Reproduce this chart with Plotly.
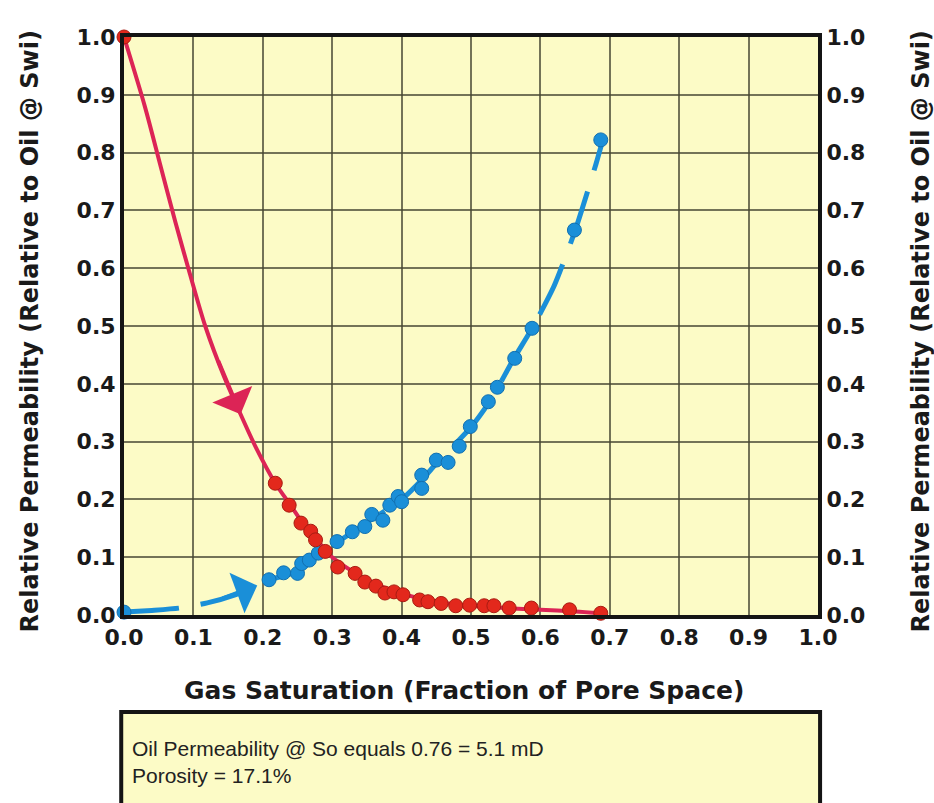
import numpy as np
import plotly.graph_objects as go

# Measured oil (red) relative permeability points vs gas saturation
oil_sg = [0.0, 0.218, 0.238, 0.255, 0.269, 0.276, 0.290, 0.308, 0.333, 0.347,
          0.363, 0.376, 0.389, 0.402, 0.426, 0.438, 0.457, 0.478, 0.498,
          0.519, 0.533, 0.555, 0.587, 0.642, 0.687]
oil_kr = [1.0, 0.228, 0.190, 0.159, 0.145, 0.130, 0.110, 0.083, 0.072, 0.057,
          0.050, 0.038, 0.040, 0.035, 0.026, 0.023, 0.020, 0.016, 0.017,
          0.016, 0.016, 0.012, 0.012, 0.009, 0.003]

# Measured gas (blue) relative permeability points vs gas saturation
gas_sg = [0.0, 0.209, 0.230, 0.250, 0.256, 0.267, 0.280, 0.307, 0.329, 0.347,
          0.357, 0.373, 0.383, 0.395, 0.400, 0.429, 0.429, 0.450, 0.467,
          0.483, 0.499, 0.525, 0.538, 0.563, 0.588, 0.649, 0.687]
gas_kr = [0.005, 0.061, 0.073, 0.072, 0.089, 0.095, 0.107, 0.127, 0.144, 0.153,
          0.174, 0.164, 0.190, 0.205, 0.196, 0.242, 0.219, 0.268, 0.264,
          0.292, 0.326, 0.369, 0.394, 0.444, 0.496, 0.666, 0.822]

# Smoothed curves through each set of measurements
oil_curve_sg = [0.0, 0.03, 0.052, 0.074, 0.095, 0.117, 0.145, 0.167, 0.19, 0.218,
                0.24, 0.26, 0.28, 0.30, 0.33, 0.36, 0.40, 0.45, 0.50, 0.55,
                0.60, 0.65, 0.687]
oil_curve_kr = [1.0, 0.88, 0.78, 0.68, 0.59, 0.50, 0.41, 0.35, 0.29, 0.228,
                0.19, 0.155, 0.127, 0.100, 0.075, 0.055, 0.037, 0.023, 0.016,
                0.012, 0.009, 0.006, 0.003]
gas_curve_sg = [0.0, 0.04, 0.08, 0.12, 0.16, 0.19, 0.21, 0.25, 0.28, 0.31,
                0.35, 0.40, 0.43, 0.45, 0.50, 0.53, 0.56, 0.59, 0.62, 0.65,
                0.68, 0.69]
gas_curve_kr = [0.005, 0.008, 0.012, 0.021, 0.035, 0.050, 0.061, 0.075, 0.105, 0.128,
                0.160, 0.200, 0.235, 0.262, 0.325, 0.375, 0.440, 0.500, 0.570, 0.665,
                0.780, 0.822]

# Direction arrows placed along each curve (tail -> tip, in gas saturation)
oil_arrow_sg = [0.135, 0.168]
gas_arrow_sg = [0.140, 0.192]

tick_vals = [round(0.1 * i, 1) for i in range(11)]

x_title = "Gas Saturation (Fraction of Pore Space)"
y_title = "Relative Permeability (Relative to Oil @ Swi)"
note_lines = ["Oil Permeability @ So equals 0.76 = 5.1 mD", "Porosity = 17.1%"]

OIL_LINE = "#dc2456"
OIL_DOT = "#e3281c"
GAS = "#1a8fd8"
PLOT_BG = "#fcfbc6"
FRAME = "#141414"
GRID = "rgba(70,70,50,0.75)"
INK = "#1a1a1a"

tick_font = dict(family="DejaVu Sans", size=22, color=INK, weight="bold")
x_title_font = dict(family="DejaVu Sans", size=25, color=INK, weight="bold")
y_title_font = dict(family="DejaVu Sans", size=24, color=INK, weight="bold")

fig = go.Figure()

fig.add_trace(go.Scatter(
    x=gas_curve_sg, y=gas_curve_kr, mode="lines",
    line=dict(color=GAS, width=5, dash="55px,22px", shape="spline", smoothing=0.6),
    hoverinfo="skip", showlegend=False, cliponaxis=False))
fig.add_trace(go.Scatter(
    x=oil_curve_sg, y=oil_curve_kr, mode="lines",
    line=dict(color=OIL_LINE, width=4, shape="spline", smoothing=0.8),
    hoverinfo="skip", showlegend=False, cliponaxis=False))
fig.add_trace(go.Scatter(
    x=gas_sg, y=gas_kr, mode="markers",
    marker=dict(size=14, color=GAS, line=dict(color="#1270b0", width=1)),
    name="Krg", showlegend=False, cliponaxis=False))
fig.add_trace(go.Scatter(
    x=oil_sg, y=oil_kr, mode="markers",
    marker=dict(size=14, color=OIL_DOT, line=dict(color="#a81c12", width=1)),
    name="Kro", showlegend=False, cliponaxis=False))
# invisible trace to activate the right-hand axis
fig.add_trace(go.Scatter(x=[0], y=[0], yaxis="y2", mode="markers",
                         marker=dict(opacity=0), hoverinfo="skip", showlegend=False))

# arrowheads showing direction along the curves
for (tail, tip), cx, cy, col in [
        (oil_arrow_sg, oil_curve_sg, oil_curve_kr, OIL_LINE),
        (gas_arrow_sg, gas_curve_sg, gas_curve_kr, GAS)]:
    fig.add_annotation(
        x=tip, y=float(np.interp(tip, cx, cy)),
        ax=tail, ay=float(np.interp(tail, cx, cy)),
        xref="x", yref="y", axref="x", ayref="y",
        text="", showarrow=True, arrowhead=1, arrowsize=1.8,
        arrowwidth=4, arrowcolor=col, standoff=0)

# axis titles
fig.add_annotation(xref="paper", yref="paper", x=0.49, y=-0.13,
                   xanchor="center", yanchor="middle", text=x_title,
                   showarrow=False, font=x_title_font)
fig.add_annotation(xref="paper", yref="paper", x=-0.136, y=0.49,
                   xanchor="center", yanchor="middle", text=y_title,
                   textangle=-90, showarrow=False, font=y_title_font)
fig.add_annotation(xref="paper", yref="paper", x=1.148, y=0.49,
                   xanchor="center", yanchor="middle", text=y_title,
                   textangle=-90, showarrow=False, font=y_title_font)

# note box beneath the chart
fig.add_shape(type="rect", xref="paper", yref="paper",
              x0=-0.004, x1=1.003, y0=-0.40, y1=-0.168,
              fillcolor=PLOT_BG, line=dict(color=FRAME, width=4), layer="above")
fig.add_annotation(xref="paper", yref="paper", x=0.008, y=-0.255,
                   xanchor="left", yanchor="middle", align="left",
                   text="<br>".join(note_lines), showarrow=False,
                   font=dict(family="Liberation Sans", size=21, color="#222222"))

axis_common = dict(
    range=[0, 1], tickvals=tick_vals, tickformat=".1f",
    showgrid=True, gridcolor=GRID, gridwidth=1.5,
    showline=True, linecolor=FRAME, linewidth=4,
    ticks="", zeroline=False, tickfont=tick_font,
    fixedrange=True)

fig.update_layout(
    width=934, height=803,
    margin=dict(l=124, r=116, t=37, b=188),
    paper_bgcolor="white", plot_bgcolor=PLOT_BG,
    xaxis=dict(**axis_common, mirror=True),
    yaxis=dict(**axis_common, mirror=True),
    yaxis2=dict(**axis_common, overlaying="y", side="right"),
)
fig.update_layout(yaxis2_showgrid=False)

fig.write_html("out.html")
